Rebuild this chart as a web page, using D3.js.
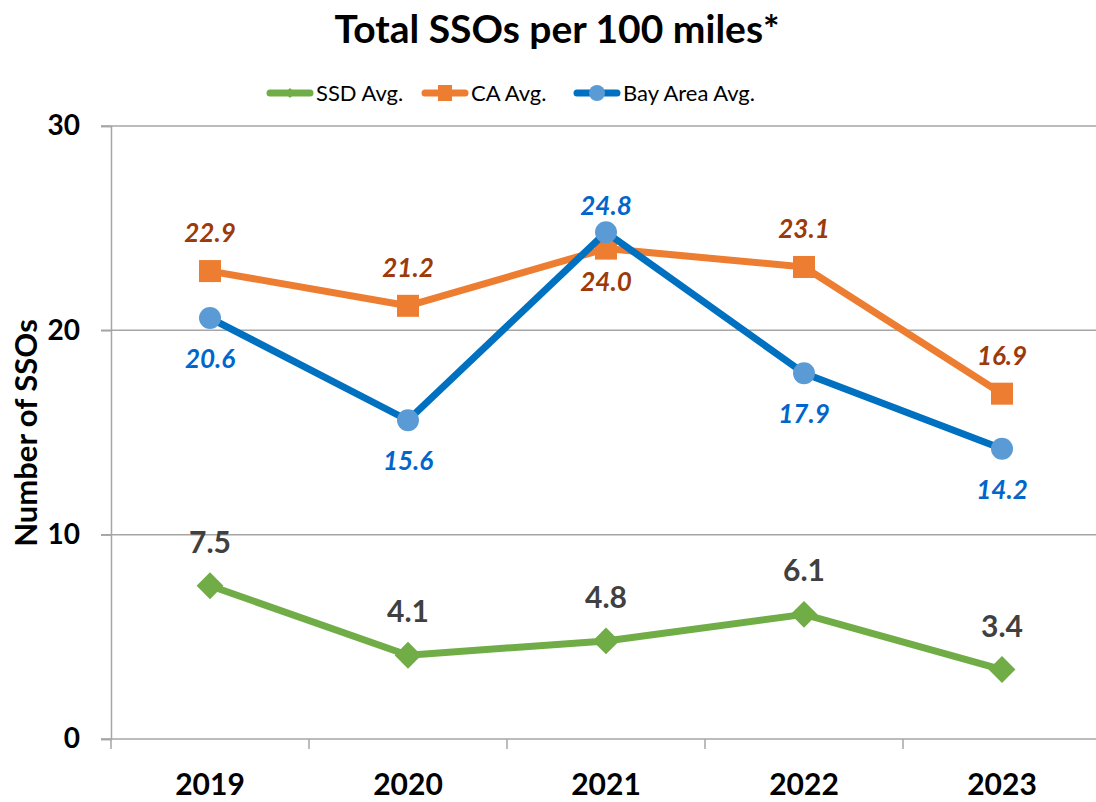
<!DOCTYPE html>
<html>
<head>
<meta charset="utf-8">
<script src="https://d3js.org/d3.v7.min.js"></script>
<style>
  body { margin: 0; background: #fff; }
  text { font-family: Lato, "Open Sans", sans-serif; }
</style>
</head>
<body>
<svg id="chart" width="1096" height="802"></svg>
<script>
var years = ["2019", "2020", "2021", "2022", "2023"];
var ssdAvg = [7.5, 4.1, 4.8, 6.1, 3.4];
var caAvg = [22.9, 21.2, 24.0, 23.1, 16.9];
var bayAvg = [20.6, 15.6, 24.8, 17.9, 14.2];
var yTicks = [0, 10, 20, 30];

// label placement: 1 = above, -1 = below
var caLabelPos = [1, 1, -1, 1, 1];
var bayLabelPos = [-1, -1, 1, -1, -1];

var svg = d3.select("#chart");
var plotLeft = 111, plotRight = 1101, plotTop = 126, plotBottom = 739;

var x = d3.scaleBand().domain(years).range([plotLeft, plotRight]);
var y = d3.scaleLinear().domain([0, 30]).range([plotBottom, plotTop]);

// gridlines
svg.selectAll(".grid").data(yTicks.slice(1)).enter().append("line")
  .attr("x1", plotLeft - 10).attr("x2", plotRight)
  .attr("y1", d => y(d)).attr("y2", d => y(d))
  .attr("stroke", "#a6a6a6").attr("stroke-width", 1.5);

// y axis
var yAxis = svg.append("g").attr("transform", "translate(" + plotLeft + ",0)")
  .call(d3.axisLeft(y).tickValues(yTicks).tickSize(10).tickPadding(21));
yAxis.select(".domain").attr("stroke", "#a6a6a6").attr("stroke-width", 1.5);
yAxis.selectAll(".tick line").attr("stroke", "#a6a6a6").attr("stroke-width", 1.5);
yAxis.selectAll(".tick text").attr("font-size", 28).attr("font-weight", "bold")
  .attr("fill", "#000").style("font-family", "Lato, sans-serif");

// x axis
var xAxis = svg.append("g").attr("transform", "translate(0," + plotBottom + ")")
  .call(d3.axisBottom(x).tickSize(0).tickPadding(35));
xAxis.select(".domain").attr("stroke", "#a6a6a6").attr("stroke-width", 1.5)
  .attr("d", "M" + (plotLeft - 10) + ",0H" + plotRight);
xAxis.selectAll(".tick text").attr("font-size", 30).attr("font-weight", "bold")
  .attr("fill", "#000").style("font-family", "Lato, sans-serif");
var bounds = years.map(d => x(d)).concat([plotRight]);
xAxis.selectAll(".bt").data(bounds).enter().append("line")
  .attr("x1", d => d).attr("x2", d => d).attr("y1", 0).attr("y2", 10)
  .attr("stroke", "#a6a6a6").attr("stroke-width", 1.5);

var cx = d => x(d) + x.bandwidth() / 2;
var line = d3.line().x((d, i) => cx(years[i])).y(d => y(d));

// SSD
svg.append("path").datum(ssdAvg).attr("d", line).attr("fill", "none")
  .attr("stroke", "#70ad47").attr("stroke-width", 7).attr("stroke-linejoin", "round");
svg.selectAll(".ssdm").data(ssdAvg).enter().append("path")
  .attr("d", d3.symbol().type(d3.symbolSquare).size(360))
  .attr("transform", (d, i) => "translate(" + cx(years[i]) + "," + y(d) + ") rotate(45)")
  .attr("fill", "#70ad47");

// CA
svg.append("path").datum(caAvg).attr("d", line).attr("fill", "none")
  .attr("stroke", "#ed7d31").attr("stroke-width", 7).attr("stroke-linejoin", "round");
svg.selectAll(".cam").data(caAvg).enter().append("rect")
  .attr("x", (d, i) => cx(years[i]) - 11).attr("y", d => y(d) - 11)
  .attr("width", 22).attr("height", 22).attr("fill", "#ed7d31");

// Bay Area
svg.append("path").datum(bayAvg).attr("d", line).attr("fill", "none")
  .attr("stroke", "#0070c0").attr("stroke-width", 7).attr("stroke-linejoin", "round");
svg.selectAll(".baym").data(bayAvg).enter().append("circle")
  .attr("cx", (d, i) => cx(years[i])).attr("cy", d => y(d)).attr("r", 11)
  .attr("fill", "#5b9bd5");

// data labels
svg.selectAll(".ssdl").data(ssdAvg).enter().append("text")
  .attr("x", (d, i) => cx(years[i])).attr("y", d => y(d) - 33)
  .attr("text-anchor", "middle").attr("font-size", 30).attr("font-weight", "bold")
  .attr("fill", "#404040").text(d => d.toFixed(1));

svg.selectAll(".cal").data(caAvg).enter().append("text")
  .attr("x", (d, i) => cx(years[i])).attr("y", (d, i) => caLabelPos[i] > 0 ? y(d) - 29 : y(d) + 42)
  .attr("text-anchor", "middle").attr("font-size", 26).attr("font-weight", "bold")
  .attr("font-style", "italic").attr("fill", "#9c3a0b").text(d => d.toFixed(1));

svg.selectAll(".bayl").data(bayAvg).enter().append("text")
  .attr("x", (d, i) => cx(years[i])).attr("y", (d, i) => bayLabelPos[i] > 0 ? y(d) - 17 : y(d) + 50)
  .attr("text-anchor", "middle").attr("font-size", 26).attr("font-weight", "bold")
  .attr("font-style", "italic").attr("fill", "#0066cc").text(d => d.toFixed(1));

// title
svg.append("text").attr("x", 557).attr("y", 43).attr("text-anchor", "middle")
  .attr("font-size", 39).attr("font-weight", "bold").attr("fill", "#000")
  .text("Total SSOs per 100 miles*");

// y axis title
svg.append("text").attr("transform", "translate(37,433) rotate(-90)")
  .attr("text-anchor", "middle").attr("font-size", 31).attr("font-weight", "bold")
  .attr("fill", "#000").text("Number of SSOs");

// legend
var legendItems = [
  { name: "SSD Avg.", color: "#70ad47", marker: "diamond", x: 268 },
  { name: "CA Avg.", color: "#ed7d31", marker: "square", x: 423 },
  { name: "Bay Area Avg.", color: "#0070c0", marker: "circle", x: 575 }
];
var lg = svg.selectAll(".lg").data(legendItems).enter().append("g")
  .attr("transform", d => "translate(" + d.x + ",93)");
lg.append("line").attr("x1", 2).attr("x2", 42).attr("y1", 0).attr("y2", 0)
  .attr("stroke", d => d.color).attr("stroke-width", 7).attr("stroke-linecap", "round");
lg.each(function(d) {
  var g = d3.select(this);
  if (d.marker === "diamond") {
    g.append("path").attr("d", d3.symbol().type(d3.symbolSquare).size(50))
      .attr("transform", "translate(22,0) rotate(45)").attr("fill", d.color);
  } else if (d.marker === "square") {
    g.append("rect").attr("x", 15).attr("y", -8).attr("width", 14).attr("height", 16).attr("fill", d.color);
  } else {
    g.append("circle").attr("cx", 22).attr("cy", 0).attr("r", 8).attr("fill", "#5b9bd5");
  }
});
lg.append("text").attr("x", 48).attr("y", 8).attr("font-size", 22).attr("fill", "#000")
  .text(d => d.name);
</script>
</body>
</html>
